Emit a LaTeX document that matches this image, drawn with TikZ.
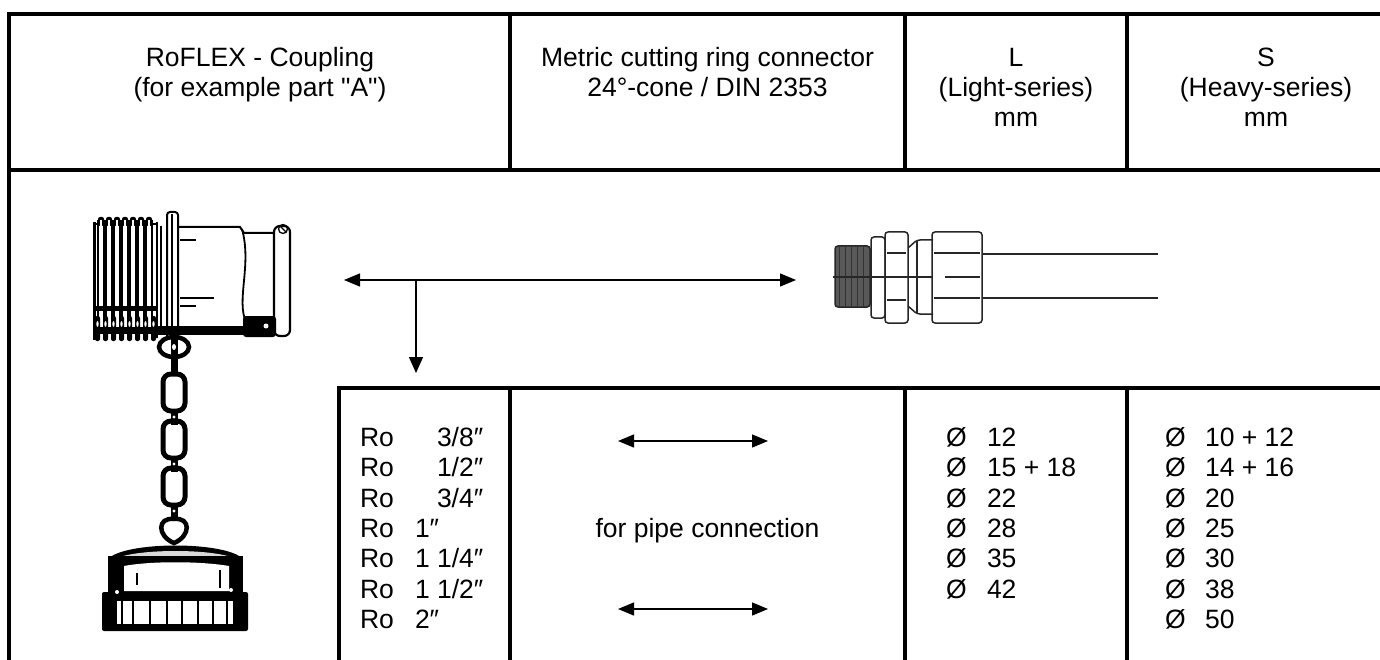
\documentclass[tikz,border=0pt]{standalone}
\usepackage{fontspec}
\setmainfont{Liberation Sans}[Ligatures=TeXOff]
\usetikzlibrary{arrows.meta}
\begin{document}
\begin{tikzpicture}[x=1pt,y=-1pt,
  every node/.style={inner sep=0pt, outer sep=0pt, font=\fontsize{26.5}{30}\selectfont},
  frame/.style={line width=4pt, line join=miter},
  gridline/.style={line width=3.6pt},
  arr/.style={line width=1.4pt, -{Triangle[length=16pt,width=14pt]}},
  darr/.style={line width=1.4pt, {Triangle[length=16pt,width=13pt]}-{Triangle[length=16pt,width=13pt]}},
  cline/.style={line width=1.5pt, rounded corners=3pt, draw=black!85},
  txt/.style={anchor=base},
  txtl/.style={anchor=base west},
]
\useasboundingbox (0,0) rectangle (1380,660);
\fill[white] (0,0) rectangle (1380,660);

% ---------- table frame ----------
\draw[frame] (9,662) -- (9,14) -- (1382,14);
\draw[gridline] (7,170) -- (1382,170);
\foreach \x in {510,905,1127} \draw[gridline] (\x,14) -- (\x,170);
\draw[gridline] (339,662) -- (339,388) -- (1382,388);
\foreach \x in {510,905,1127} \draw[gridline] (\x,388) -- (\x,662);

% ---------- header text ----------
\node[txt] (h1a) at (260,66.5) {RoFLEX - Coupling};
\node[txt] (h1b) at (260,96.5) {(for example part "A")};
\node[txt] (h2a) at (707.5,66.5) {Metric cutting ring connector};
\node[txt] (h2b) at (707.5,96.5) {24°-cone / DIN 2353};
\node[txt] (h3a) at (1016,66.5) {L};
\node[txt] (h3b) at (1016,96.5) {(Light-series)};
\node[txt] (h3c) at (1016,126.5) {mm};
\node[txt] (h4a) at (1266,66.5) {S};
\node[txt] (h4b) at (1266,96.5) {(Heavy-series)};
\node[txt] (h4c) at (1266,126.5) {mm};

% ---------- Ro column ----------
\node[txtl] (r1) at (360,446.5) {Ro};  \node[txtl] (v1) at (437,446.5) {3/8″};
\node[txtl] (r2) at (360,476.8) {Ro};  \node[txtl] (v2) at (437,476.8) {1/2″};
\node[txtl] (r3) at (360,507.1) {Ro};  \node[txtl] (v3) at (437,507.1) {3/4″};
\node[txtl] (r4) at (360,537.4) {Ro};  \node[txtl] (v4) at (415,537.4) {1″};
\node[txtl] (r5) at (360,567.7) {Ro};  \node[txtl] (v5) at (415,567.7) {1 1/4″};
\node[txtl] (r6) at (360,598.0) {Ro};  \node[txtl] (v6) at (415,598.0) {1 1/2″};
\node[txtl] (r7) at (360,628.3) {Ro};  \node[txtl] (v7) at (415,628.3) {2″};

% ---------- middle column ----------
\node[txt] (pipe) at (707.5,537) {for pipe connection};
\coordinate (pa1) at (618,441); \coordinate (pb1) at (768,441);
\coordinate (pa2) at (618,609); \coordinate (pb2) at (768,609);
\draw[darr] (pa1) -- (pb1);
\draw[darr] (pa2) -- (pb2);

% ---------- L column ----------
\node[txtl] (l1d) at (946,446.5) {Ø}; \node[txtl] (l1) at (987,446.5) {12};
\node[txtl] (l2d) at (946,476.8) {Ø}; \node[txtl] (l2) at (987,476.8) {15 + 18};
\node[txtl] (l3d) at (946,507.1) {Ø}; \node[txtl] (l3) at (987,507.1) {22};
\node[txtl] (l4d) at (946,537.4) {Ø}; \node[txtl] (l4) at (987,537.4) {28};
\node[txtl] (l5d) at (946,567.7) {Ø}; \node[txtl] (l5) at (987,567.7) {35};
\node[txtl] (l6d) at (946,598.0) {Ø}; \node[txtl] (l6) at (987,598.0) {42};

% ---------- S column ----------
\node[txtl] (s1d) at (1165,446.5) {Ø}; \node[txtl] (s1) at (1205,446.5) {10 + 12};
\node[txtl] (s2d) at (1165,476.8) {Ø}; \node[txtl] (s2) at (1205,476.8) {14 + 16};
\node[txtl] (s3d) at (1165,507.1) {Ø}; \node[txtl] (s3) at (1205,507.1) {20};
\node[txtl] (s4d) at (1165,537.4) {Ø}; \node[txtl] (s4) at (1205,537.4) {25};
\node[txtl] (s5d) at (1165,567.7) {Ø}; \node[txtl] (s5) at (1205,567.7) {30};
\node[txtl] (s6d) at (1165,598.0) {Ø}; \node[txtl] (s6) at (1205,598.0) {38};
\node[txtl] (s7d) at (1165,628.3) {Ø}; \node[txtl] (s7) at (1205,628.3) {50};

% ---------- arrows ----------
\coordinate (aL) at (344,280); \coordinate (aR) at (796,280);
\coordinate (aJ) at (416,280); \coordinate (aD) at (416,373);
\draw[darr] (aL) -- (aR);
\draw[arr] (aJ) -- (aD);

% ---------- coupling drawing ----------
% threaded part
\draw[line width=1.6pt] (94,224) -- (157,224);
\foreach \x in {98,106,114,122,130,138,146} {
  \fill[rounded corners=2pt] (\x,217) rectangle (\x+6,226);
  \fill[white] (\x+2,220) rectangle (\x+4,318);
  \draw[line width=1.6pt] (\x,220) -- (\x,332);
  \draw[line width=1.6pt] (\x+6,220) -- (\x+6,332);
}
\draw[line width=3pt] (94,222) -- (94,340);
\fill (94,306) rectangle (157,311);
\fill (94,327) rectangle (157,334);
\foreach \x in {95,103,111,119,127,135,143,151}
  \fill[rounded corners=2pt] (\x,316) rectangle (\x+5,341);
\foreach \x in {97.5,105.5,113.5,121.5,129.5,137.5,145.5,153.5}
  \fill[white] (\x,324) ellipse (1.2 and 3);
\draw[line width=2pt] (157,222) -- (157,338);
\draw[line width=1.2pt] (161,226) -- (161,334);
% collar
\draw[line width=2pt, rounded corners=3pt] (167,338) -- (167,212) -- (178,212) -- (178,338);
\draw[line width=1.4pt] (172,214) -- (172,334);
% body
\draw[line width=2pt] (178,227) -- (240,227) -- (244,233) -- (274,233);
\draw[line width=1.8pt] (242,229) .. controls (252,265) and (236,300) .. (246,322);
\draw[line width=1.6pt] (180,240) -- (196,240);
\draw[line width=1.6pt] (180,298) -- (214,298);
\draw[line width=1.6pt] (180,306) -- (196,306);
\fill (157,326) rectangle (246,335);
\fill[rounded corners=3pt] (243,316) rectangle (276,337);
\fill[white] (266,326) circle (2.5);
% right rim
\draw[line width=2.2pt, rounded corners=6pt] (274,226) rectangle (290,336);
\draw[line width=1.3pt] (283,229) circle (4.5);
\draw[line width=1.3pt] (280,226) -- (286,232);
% chain
\draw[line width=4.5pt] (174,347) ellipse (15 and 10);
\fill (170.5,336) rectangle (177.5,374);
\fill[white] (174,347) ellipse (2 and 3);
\foreach \y in {374,421,468} {
  \draw[line width=5pt, rounded corners=8pt] (163,\y) rectangle (185,\y+37);
}
\foreach \y in {409,456,503} {
  \fill (170.5,\y) rectangle (177.5,\y+16);
  \fill[white] (174,\y+8) circle (1.6);
}
\draw[line width=4.5pt] (174,519) .. controls (157,517) and (157,536) .. (174,543)
                      .. controls (191,536) and (191,517) .. (174,519);
% cap
\fill (108,559) .. controls (125,541) and (226,541) .. (243,559) -- cycle;
\fill[white!85!black] (114,560) .. controls (130,548) and (221,548) .. (237,560) -- cycle;
\fill (108,556) rectangle (243,595);
\fill[white] (124,566) .. controls (150,561) and (200,561) .. (229,566) -- (229,591) -- (124,591) -- cycle;
\draw[line width=1.5pt] (137,573) -- (137,585);
\draw[line width=1.5pt] (220,570) -- (220,588);
\fill[rounded corners=2pt] (102,592) rectangle (248,631);
\fill[white] (117,601) rectangle (233,624);
\foreach \x in {122,133,150,167,182,198,213,227}
  \fill (\x-1.4,601) rectangle (\x+1.4,624);
\fill[white] (117,592) circle (2); \fill[white] (231,590) circle (2);

% ---------- connector drawing ----------
\fill[black!65, rounded corners=2pt] (835,246) rectangle (870,307);
\foreach \x in {839,845,851,857,863}
  \draw[black!80, line width=0.8pt] (\x,247) -- (\x,306);
\draw[cline] (835,246) rectangle (870,307);
\draw[cline] (871,237) rectangle (885,318);
\draw[cline] (885,232) rectangle (908,323);
\draw[line width=1.4pt, draw=black!85] (887,253) -- (906,253);
\draw[line width=1.4pt, draw=black!85] (887,300) -- (906,300);
\draw[cline] (908,248) -- (917,240) -- (933,240);
\draw[cline] (908,306) -- (917,314) -- (933,314);
\draw[line width=1.4pt, draw=black!85] (917,241) -- (917,313);
\draw[cline] (932,232) rectangle (982,323);
\draw[line width=1.4pt, draw=black!85] (934,253) -- (980,253);
\draw[line width=1.4pt, draw=black!85] (934,298) -- (980,298);
\draw[line width=1.2pt, draw=black!85] (833,277) -- (932,277);
\draw[line width=1.2pt, draw=black!85] (945,277) -- (980,277);
\draw[line width=1.4pt, draw=black!85] (982,254) -- (1158,254);
\draw[line width=1.4pt, draw=black!85] (982,298) -- (1158,298);
\end{tikzpicture}
\end{document}
